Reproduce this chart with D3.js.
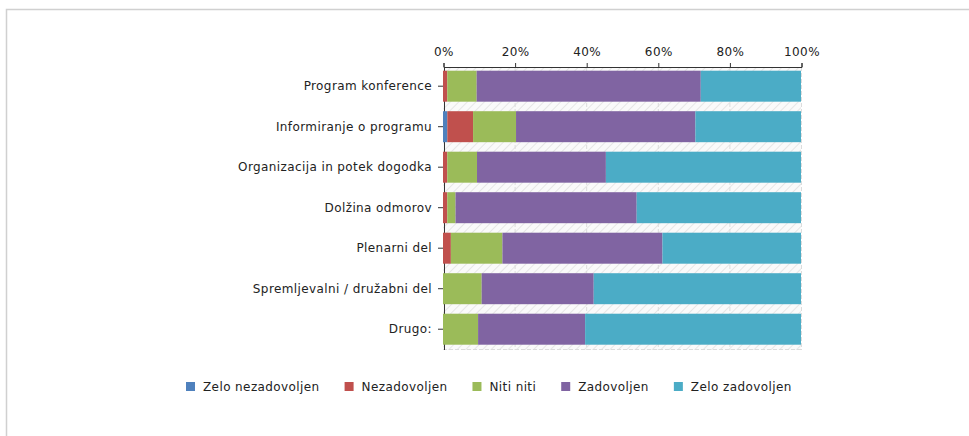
<!DOCTYPE html>
<html>
<head>
<meta charset="utf-8">
<title>Zadovoljstvo s konferenco</title>
<style>
  body { margin: 0; background: #fff; }
  svg { display: block; font-family: "DejaVu Sans", Verdana, sans-serif; }
  .lbl { font-size: 12px; fill: #222; letter-spacing: 0.4px; }
</style>
</head>
<body>
<div id="chart"></div>
<script src="https://cdn.jsdelivr.net/npm/d3@7"></script>
<script>
// ******* data (percent per category) *******
const categories = ["Program konference", "Informiranje o programu", "Organizacija in potek dogodka",
  "Dolžina odmorov", "Plenarni del", "Spremljevalni / družabni del", "Drugo:"];
const seriesNames = ["Zelo nezadovoljen", "Nezadovoljen", "Niti niti", "Zadovoljen", "Zelo zadovoljen"];
const zeloNezadovoljen = [0, 1.2, 0, 0, 0, 0, 0];
const nezadovoljen     = [1.2, 7.2, 1.2, 1.2, 2.2, 0, 0];
const nitiNiti         = [8.2, 12.0, 8.3, 2.3, 14.4, 10.8, 9.8];
const zadovoljen       = [62.6, 50.1, 36.0, 50.6, 44.7, 31.3, 29.9];
const zeloZadovoljen   = [28.0, 29.5, 54.5, 45.9, 38.7, 57.9, 60.3];
const tickValues = [0, 20, 40, 60, 80, 100];
const colors = ["#4f81bd", "#c0504d", "#9bbb59", "#8064a2", "#4bacc6"];

const W = 969, H = 436;
const svg = d3.select("#chart").append("svg").attr("width", W).attr("height", H);

// outer frame
svg.append("rect").attr("x", 6.5).attr("y", 9.5).attr("width", W + 10).attr("height", H + 10)
  .attr("fill", "none").attr("stroke", "#d0d0d0").attr("stroke-width", 1.5);

// build rows for the stack
const columns = [zeloNezadovoljen, nezadovoljen, nitiNiti, zadovoljen, zeloZadovoljen];
const rows = categories.map(function(c, i) {
  const r = { cat: c };
  seriesNames.forEach(function(s, j) { r[s] = columns[j][i]; });
  return r;
});
const stacked = d3.stack().keys(seriesNames)(rows);

// ******* scales *******
const x = d3.scaleLinear().domain([0, 100]).range([443, 801]);
const y = d3.scaleBand().domain(categories).range([66, 349.4])
  .paddingInner(0.235).paddingOuter(0.116);
const top0 = 67, bottom0 = 350;

// hatched plot background
const defs = svg.append("defs");
const pat = defs.append("pattern").attr("id", "hatch").attr("patternUnits", "userSpaceOnUse")
  .attr("width", 6).attr("height", 6).attr("patternTransform", "rotate(45)");
pat.append("rect").attr("width", 6).attr("height", 6).attr("fill", "#fafafa");
pat.append("line").attr("x1", 0).attr("y1", 0).attr("x2", 0).attr("y2", 6)
  .attr("stroke", "#e6e6e6").attr("stroke-width", 2);

svg.append("rect").attr("x", x(0)).attr("y", top0).attr("width", x(100) - x(0))
  .attr("height", bottom0 - top0).attr("fill", "url(#hatch)");

// gridlines
svg.append("g").selectAll("line").data(tickValues.slice(1)).join("line")
  .attr("x1", function(d) { return x(d) + 0.5; }).attr("x2", function(d) { return x(d) + 0.5; })
  .attr("y1", top0).attr("y2", bottom0)
  .attr("stroke", "#dcdcdc").attr("stroke-dasharray", "4,2");
svg.append("line").attr("x1", x(0)).attr("x2", x(100)).attr("y1", bottom0 - 0.5).attr("y2", bottom0 - 0.5)
  .attr("stroke", "#dcdcdc").attr("stroke-dasharray", "4,2");

// ******* axes *******
const xAxis = svg.append("g").attr("transform", `translate(0.5, ${top0})`)
  .call(d3.axisTop(x).tickValues(tickValues).tickFormat(function(d) { return d + "%"; })
    .tickSize(4).tickSizeOuter(4).tickPadding(7));
xAxis.attr("font-family", null).attr("font-size", null);
xAxis.selectAll("text").attr("class", "lbl");
xAxis.selectAll("path, line").attr("stroke", "#333");

const yAxis = svg.append("g").attr("transform", `translate(${x(0) + 1}, 0)`)
  .call(d3.axisLeft(y).tickSize(6).tickSizeOuter(0).tickPadding(6));
yAxis.attr("font-family", null).attr("font-size", null);
yAxis.select(".domain").attr("d", `M0.5,${top0}V${bottom0}`);
yAxis.selectAll("text").attr("class", "lbl");
yAxis.selectAll("path, line").attr("stroke", "#333");

// ******* bars (drawn over the 0% line) *******
svg.append("g").selectAll("g").data(stacked).join("g")
  .attr("fill", function(d, i) { return colors[i]; })
  .selectAll("rect").data(function(d) { return d; }).join("rect")
  .attr("x", function(d) { return x(d[0]); })
  .attr("width", function(d) { return x(d[1]) - x(d[0]); })
  .attr("y", function(d) { return y(d.data.cat); })
  .attr("height", y.bandwidth());

// ******* legend *******
const legend = svg.append("g").attr("transform", "translate(186, 387)");
let lx = 0;
seriesNames.forEach(function(s, i) {
  const g = legend.append("g").attr("transform", `translate(${lx}, 0)`);
  g.append("rect").attr("x", 0).attr("y", -5).attr("width", 9).attr("height", 9).attr("fill", colors[i]);
  const t = g.append("text").attr("class", "lbl").attr("x", 17).attr("dy", "0.35em").text(s);
  lx += 17 + t.node().getComputedTextLength() + 25;
});
</script>
</body>
</html>
